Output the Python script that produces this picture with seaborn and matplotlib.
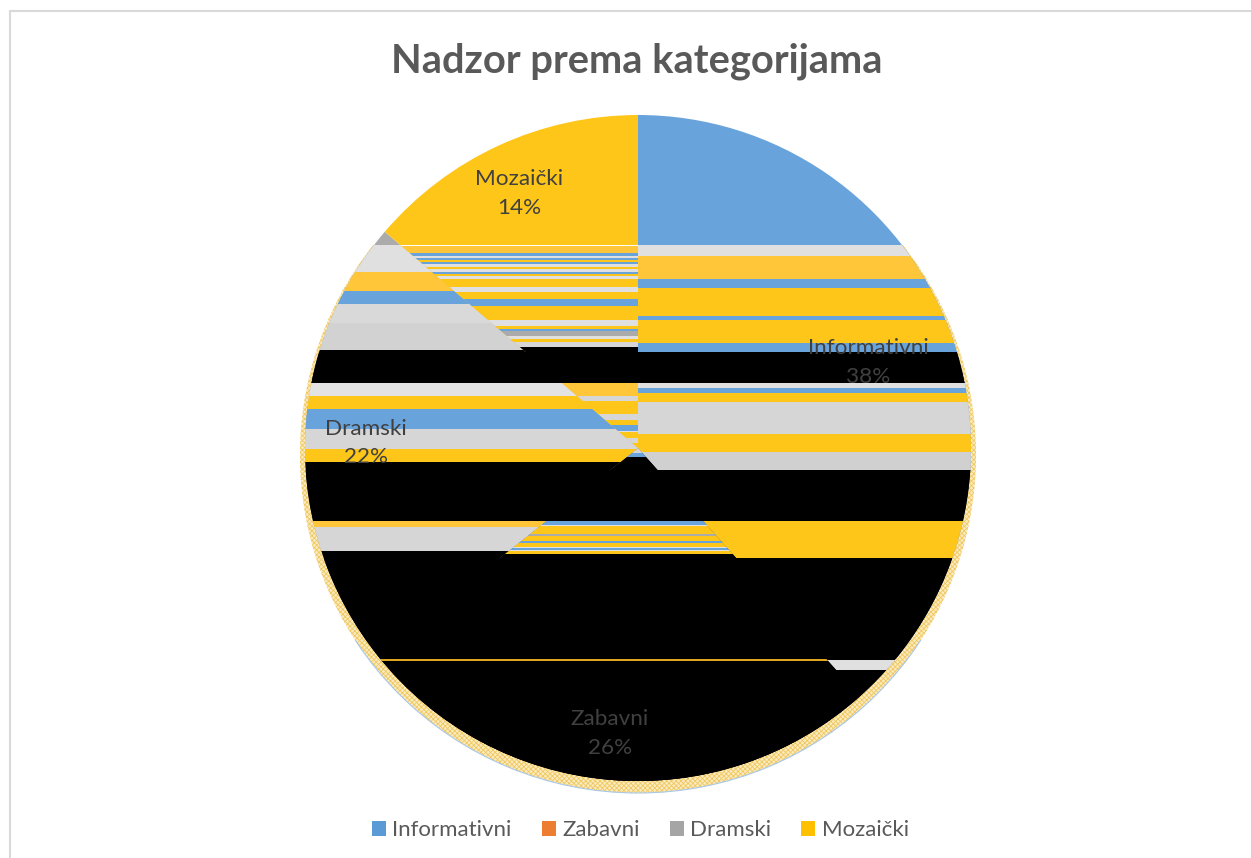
import matplotlib
matplotlib.use("Agg")
import matplotlib.pyplot as plt
from matplotlib.patches import Circle, Patch, Rectangle
import seaborn as sns

title = "Nadzor prema kategorijama"
categories = ["Informativni", "Zabavni", "Dramski", "Mozaički"]
shares = [38.4, 25.9, 21.95, 13.75]
legend_colors = ["#5B9BD5", "#ED7D31", "#A5A5A5", "#FFC000"]

BLUE = "#69A3DB"
YEL = "#FFC61A"
YL2 = "#FFC63A"
LIGHT = "#E0E0E0"
MID = "#D6D6D6"
GRAY = "#ABABAB"
BLACK = "#000000"
WHITE = "#FFFFFF"

# the reference is a broken render: each slice is cut in horizontal strips
info_strips = [(245, 256, LIGHT), (256, 279, YL2), (279, 288, BLUE), (288, 316, YEL),
               (316, 320, BLUE), (320, 343, YEL), (343, 352, BLUE), (352, 383, BLACK),
               (383, 388, LIGHT), (388, 393, BLUE), (393, 402, YEL), (402, 434, MID),
               (434, 452, YEL), (452, 470, "#D0D0D0"), (470, 521, BLACK), (521, 558, YEL),
               (558, 660, BLACK), (660, 670, LIGHT), (670, 800, BLACK)]
zabavni_strips = [(440, 453, MID), (453, 457, BLUE), (457, 521, BLACK), (521, 524.5, BLUE),
                  (524.5, 526, LIGHT), (526, 533.5, YEL), (533.5, 536, GRAY), (536, 541, YEL),
                  (541, 543, BLUE), (543, 547, YEL), (547, 548, LIGHT), (548, 550, BLUE),
                  (550, 551, LIGHT), (551, 554, YEL), (554, 659, BLACK), (659, 660.5, "#E0A520"),
                  (660.5, 800, BLACK)]
dramski_strips = [(245, 272, LIGHT), (272, 291, YL2), (291, 304, BLUE), (304, 323, "#D9D9D9"),
                  (323, 350, "#D2D2D2"), (350, 383, BLACK), (383, 396, "#E3E3E3"), (396, 409, YEL),
                  (409, 429, BLUE), (429, 449, MID), (449, 462, YEL), (462, 521, BLACK),
                  (521, 527, YL2), (527, 551, MID), (551, 800, BLACK)]
mozaicki_strips = [(245, 246, WHITE), (246, 253, YL2), (253, 255.5, BLUE), (255.5, 257.5, LIGHT),
                   (257.5, 259.5, BLUE), (259.5, 261.7, YEL), (261.7, 264.3, BLUE), (264.3, 267.3, LIGHT),
                   (267.3, 269.3, YEL), (269.3, 271.7, LIGHT), (271.7, 274, BLUE), (274, 276, YEL),
                   (276, 278.7, LIGHT), (278.7, 287.3, YEL), (287.3, 292, LIGHT), (292, 299.3, YEL),
                   (299.3, 306, BLUE), (306, 320, YEL), (320, 326, LIGHT), (326, 328.7, YEL),
                   (328.7, 331.3, BLUE), (331.3, 336.3, GRAY), (336.3, 338.7, LIGHT), (338.7, 342, YEL),
                   (342, 347, MID), (347, 383, BLACK), (383, 396, YL2), (396, 401, MID), (401, 414, YEL),
                   (414, 420, MID), (420, 425, YEL), (425, 431, BLUE), (431, 432, LIGHT), (432, 438, YEL),
                   (438, 443, MID), (443, 450, YEL)]
strips = [info_strips, zabavni_strips, dramski_strips, mozaicki_strips]
# black strips that run across slices, drawn whole so no seam shows
shared_black = [(352, 383), (470, 521), (558, 659), (670, 800)]

sns.set_theme(style="white")
plt.rcParams["font.family"] = ["Lato", "DejaVu Sans"]
plt.rcParams["hatch.linewidth"] = 0.6

fig = plt.figure(figsize=(12.51, 8.58), dpi=100)
ax = fig.add_axes([0, 0, 1, 1])

center = (638, 448)
wedges, _ = ax.pie(shares, colors=[BLUE, BLACK, GRAY, YEL], center=center, radius=333,
                   startangle=-90, counterclock=True, wedgeprops={"linewidth": 0})
ax.set_xlim(0, 1251)
ax.set_ylim(858, 0)
ax.axis("off")

# pale rim the broken render leaves round the lower part of the pie
rim = Circle((638, 455), 338, facecolor="#FBEBC0", edgecolor="#F0C860", hatch="xxxxxxx",
             linewidth=0, zorder=0.5)
ax.add_patch(rim)
rim.set_clip_path(Rectangle((0, 245), 1251, 613, transform=ax.transData))
rim_line = Circle((638, 455), 338, fill=False, edgecolor="#A9C8EA", linewidth=0.8, zorder=0.6)
ax.add_patch(rim_line)
rim_line.set_clip_path(Rectangle((0, 640), 1251, 218, transform=ax.transData))

for wedge, rows in zip(wedges, strips):
    for top, bottom, color in rows:
        bars = ax.barh(top, 700, left=290, height=bottom - top, align="edge", color=color, linewidth=0)
        bars[0].set_clip_path(wedge)

disc = Circle(center, 333, transform=ax.transData)
for top, bottom in shared_black:
    bars = ax.barh(top, 700, left=290, height=bottom - top, align="edge", color=BLACK, linewidth=0)
    bars[0].set_clip_path(disc)

label_pos = [(868, 348, 377), (610, 719, 748), (366, 429, 457), (519, 179, 208)]
for name, share, (x, y1, y2) in zip(categories, shares, label_pos):
    ax.text(x, y1, name, ha="center", va="center", fontsize=16.2, color="#404040")
    ax.text(x, y2, f"{share:.0f}%", ha="center", va="center", fontsize=16.2, color="#404040")

ax.text(637, 61, title, ha="center", va="center", fontsize=28.7, fontweight="bold", color="#595959")

handles = [Patch(facecolor=c, linewidth=0) for c in legend_colors]
ax.legend(handles, categories, ncol=4, loc="center", bbox_to_anchor=(640.5 / 1251, 1 - 830.5 / 858),
          frameon=False, fontsize=16, labelcolor="#595959", handlelength=0.62, handleheight=0.62,
          handletextpad=0.3, columnspacing=1.35)

# chart frame
ax.plot([10, 10], [858, 11], color="#D9D9D9", linewidth=1.5)
ax.plot([10, 1251], [11, 11], color="#D9D9D9", linewidth=1.5)

fig.savefig("out.png", dpi=100)
